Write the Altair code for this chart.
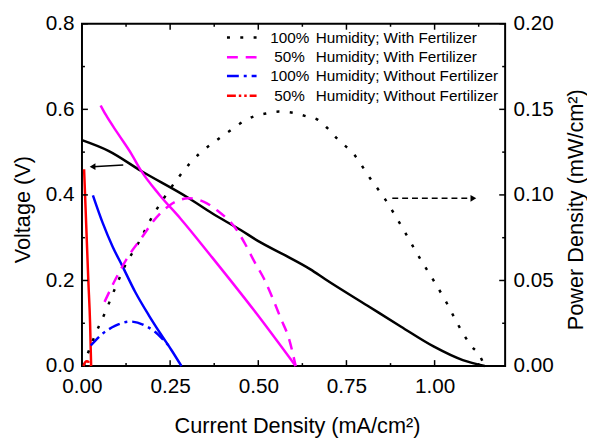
import altair as alt
import pandas as pd

# ---------------- data ----------------
# Voltage curves (left axis, V) vs current density (mA/cm^2)
bv_I = [0.0, 0.075, 0.168, 0.30, 0.369, 0.45, 0.50, 0.578, 0.648, 0.69, 0.81, 0.905, 0.997, 1.08, 1.142]
bv_V = [0.528, 0.503, 0.456, 0.394, 0.357, 0.318, 0.292, 0.258, 0.226, 0.203, 0.141, 0.092, 0.046, 0.014, 0.0]

mv_I = [0.053, 0.067, 0.103, 0.14, 0.168, 0.22, 0.279, 0.369, 0.489, 0.606]
mv_V = [0.609, 0.588, 0.542, 0.496, 0.456, 0.400, 0.345, 0.254, 0.129, 0.0]

blv_I = [0.031, 0.059, 0.087, 0.115, 0.151, 0.19, 0.226, 0.254, 0.282]
blv_V = [0.399, 0.334, 0.279, 0.233, 0.173, 0.118, 0.0715, 0.037, 0.0]

rv_I = [0.006, 0.012, 0.018, 0.023, 0.026]
rv_V = [0.46, 0.33, 0.20, 0.10, 0.0]

# Power density curves (right axis, mW/cm^2)
bp_I = [0.005, 0.014, 0.039, 0.067, 0.095, 0.123, 0.162, 0.193, 0.232, 0.271, 0.304, 0.335, 0.369, 0.402,
        0.43, 0.458, 0.489, 0.522, 0.559, 0.598, 0.635, 0.668, 0.696, 0.723, 0.774, 0.816, 0.858, 0.908,
        0.961, 0.997, 1.034, 1.067, 1.103, 1.128, 1.142]
bp_P = [0.0, 0.0058, 0.019, 0.032, 0.046, 0.059, 0.0726, 0.085, 0.098, 0.1095, 0.118, 0.1245, 0.130, 0.135,
        0.139, 0.143, 0.146, 0.1476, 0.1487, 0.148, 0.146, 0.144, 0.139, 0.133, 0.123, 0.110, 0.098, 0.081,
        0.062, 0.050, 0.037, 0.024, 0.012, 0.006, 0.0]

mp_I = [0.064, 0.095, 0.134, 0.165, 0.212, 0.249, 0.302, 0.346, 0.383, 0.439, 0.461, 0.489, 0.517, 0.542, 0.564, 0.587, 0.606]
mp_P = [0.0375, 0.0507, 0.065, 0.0738, 0.087, 0.094, 0.098, 0.096, 0.091, 0.0795, 0.072, 0.061, 0.0507, 0.039, 0.0277, 0.016, 0.0]

blp_I = [0.025, 0.059, 0.095, 0.137, 0.179, 0.207, 0.232, 0.250]
blp_P = [0.012, 0.019, 0.0236, 0.026, 0.0236, 0.020, 0.015, 0.011]

rp_I = [0.004, 0.009, 0.014, 0.019, 0.023]
rp_P = [0.0, 0.0022, 0.0028, 0.0022, 0.0]

series_names = ["100% Humidity; With Fertilizer", "50% Humidity; With Fertilizer",
                "100% Humidity; Without Fertilizer", "50% Humidity; Without Fertilizer"]
legend_pct = ["100%", "50%", "100%", "50%"]
legend_rest = ["Humidity; With Fertilizer", "Humidity; With Fertilizer",
               "Humidity; Without Fertilizer", "Humidity; Without Fertilizer"]

# arrows (solid -> voltage axis, dashed -> power axis)
arrowV_I = [0.117, 0.03]
arrowV_V = [0.470, 0.466]
arrowP_I = [0.88, 1.11]
arrowP_P = [0.098, 0.098]

# axis ticks
x_major = [0.0, 0.25, 0.5, 0.75, 1.0]
x_minor = [0.125, 0.375, 0.625, 0.875, 1.125]
v_major = [0.0, 0.2, 0.4, 0.6, 0.8]
v_minor = [0.1, 0.3, 0.5, 0.7]
p_major = [0.0, 0.05, 0.10, 0.15, 0.20]
p_minor = [0.025, 0.075, 0.125, 0.175]

# ---------------- styles ----------------
colors = ["#000000", "#FF00FF", "#0000FF", "#FF0000"]
dashes = [[3, 10.5], [11, 8], [12, 5, 3, 5], [9, 3, 2.5, 3, 2.5, 3]]
W, H = 429, 347
FONT = "Liberation Sans"

def frame(Is, Ys, name, ycol):
    return pd.DataFrame({"I": Is, ycol: Ys, "series": name, "order": range(len(Is))})

volt_df = pd.concat([
    frame(bv_I, bv_V, series_names[0], "V"),
    frame(mv_I, mv_V, series_names[1], "V"),
    frame(blv_I, blv_V, series_names[2], "V"),
    frame(rv_I, rv_V, series_names[3], "V"),
])
pow_df = pd.concat([
    frame(bp_I, bp_P, series_names[0], "P"),
    frame(mp_I, mp_P, series_names[1], "P"),
    frame(blp_I, blp_P, series_names[2], "P"),
    frame(rp_I, rp_P, series_names[3], "P"),
])

xscale = alt.Scale(domain=[0, 1.2], nice=False, zero=False)
vscale = alt.Scale(domain=[0, 0.8], nice=False)
pscale = alt.Scale(domain=[0, 0.2], nice=False)
cscale = alt.Scale(domain=series_names, range=colors)

x_axis = alt.Axis(values=x_major, format=".2f", title="Current Density (mA/cm²)",
                  ticks=False, tickSize=0, domain=False, grid=False, labelFlush=False,
                  labelPadding=10, titlePadding=19, titleX=218)
v_axis = alt.Axis(values=v_major, format=".1f", title="Voltage (V)", orient="left",
                  ticks=False, tickSize=0, domain=False, grid=False, labelFlush=False,
                  labelPadding=8, titlePadding=11, titleY=188)
p_axis = alt.Axis(values=p_major, format=".2f", title="Power Density (mW/cm²)", orient="right",
                  ticks=False, tickSize=0, domain=False, grid=False, labelFlush=False,
                  labelPadding=8, titlePadding=13, titleAngle=270, titleBaseline="top", titleY=188)

def X():
    return alt.X("I:Q", scale=xscale, axis=x_axis)

def YV(col="V"):
    return alt.Y(f"{col}:Q", scale=vscale, axis=v_axis)

def YP(col="P"):
    return alt.Y(f"{col}:Q", scale=pscale, axis=p_axis)

volt = alt.Chart(volt_df).mark_line(strokeWidth=2.5, interpolate="monotone").encode(
    x=X(), y=YV(),
    color=alt.Color("series:N", scale=cscale, legend=None),
    detail="series:N",
    order="order:Q",
)

power = alt.Chart(pow_df).mark_line(strokeWidth=2.5, interpolate="monotone").encode(
    x=X(), y=YP(),
    color=alt.Color("series:N", scale=cscale, legend=None),
    strokeDash=alt.StrokeDash("series:N", scale=alt.Scale(domain=series_names, range=dashes), legend=None),
    detail="series:N",
    order="order:Q",
)

# ---- inward tick marks ----
def xticks(vals, length):
    d = pd.DataFrame({"I": vals})
    bottom = alt.Chart(d).mark_rule(color="black", strokeWidth=1.5).encode(
        x=X(), y=alt.value(H), y2=alt.value(H - length))
    top = alt.Chart(d).mark_rule(color="black", strokeWidth=1.5).encode(
        x=X(), y=alt.value(0), y2=alt.value(length))
    return [bottom, top]

def vticks(vals, length):
    d = pd.DataFrame({"V": vals})
    return alt.Chart(d).mark_rule(color="black", strokeWidth=1.5).encode(
        y=YV(), x=alt.value(0), x2=alt.value(length))

def pticks(vals, length):
    d = pd.DataFrame({"P": vals})
    return alt.Chart(d).mark_rule(color="black", strokeWidth=1.5).encode(
        y=YP(), x=alt.value(W), x2=alt.value(W - length))

# ---- arrows ----
arrV_df = pd.DataFrame({"I": arrowV_I, "V": arrowV_V})
arrowV_line = alt.Chart(arrV_df).mark_line(color="black", strokeWidth=1.5).encode(x=X(), y=YV())
arrowV_head = alt.Chart(arrV_df.tail(1)).mark_point(shape="triangle-left", filled=True, color="black",
                                                    size=45, opacity=1).encode(x=X(), y=YV())

arrP_df = pd.DataFrame({"I": arrowP_I, "P": arrowP_P})
arrowP_line = alt.Chart(arrP_df).mark_line(color="black", strokeWidth=1.5, strokeDash=[6, 4]).encode(x=X(), y=YP())
arrowP_head = alt.Chart(arrP_df.tail(1)).mark_point(shape="triangle-right", filled=True, color="black",
                                                    size=45, opacity=1).encode(x=X(), y=YP())

# ---- manual legend ----
legend_layers = []
row_y = [14, 34, 53, 73]
for i in range(4):
    one = pd.DataFrame({"pct": [legend_pct[i]], "rest": [legend_rest[i]]})
    legend_layers.append(alt.Chart(one).mark_rule(color=colors[i], strokeWidth=2.5, strokeDash=dashes[i]).encode(
        x=alt.value(147), x2=alt.value(177), y=alt.value(row_y[i])))
    legend_layers.append(alt.Chart(one).mark_text(align="left", baseline="middle", fontSize=15.5, font=FONT,
                                                  color="black").encode(
        text="pct:N", x=alt.value(191 if legend_pct[i] == "100%" else 195), y=alt.value(row_y[i])))
    legend_layers.append(alt.Chart(one).mark_text(align="left", baseline="middle", fontSize=15.5, font=FONT,
                                                  color="black").encode(
        text="rest:N", x=alt.value(237), y=alt.value(row_y[i])))

left_group = alt.layer(
    volt,
    *xticks(x_major, 6), *xticks(x_minor, 3),
    vticks(v_major, 6), vticks(v_minor, 3),
    arrowV_line, arrowV_head,
    *legend_layers,
)
right_group = alt.layer(
    power,
    pticks(p_major, 6), pticks(p_minor, 3),
    arrowP_line, arrowP_head,
)

chart = alt.layer(left_group, right_group).resolve_scale(
    y="independent"
).properties(
    width=W, height=H,
    autosize=alt.AutoSizeParams(type="none"),
    padding={"left": 75, "top": 13, "right": 83, "bottom": 74},
    background="white",
).configure_view(
    stroke="black", strokeWidth=2
).configure_axis(
    labelFont=FONT, titleFont=FONT, labelFontSize=21, titleFontSize=22,
    titleFontWeight="normal", labelColor="black", titleColor="black",
)

chart.save("out.html", embed_options={"renderer": "svg", "actions": False})
